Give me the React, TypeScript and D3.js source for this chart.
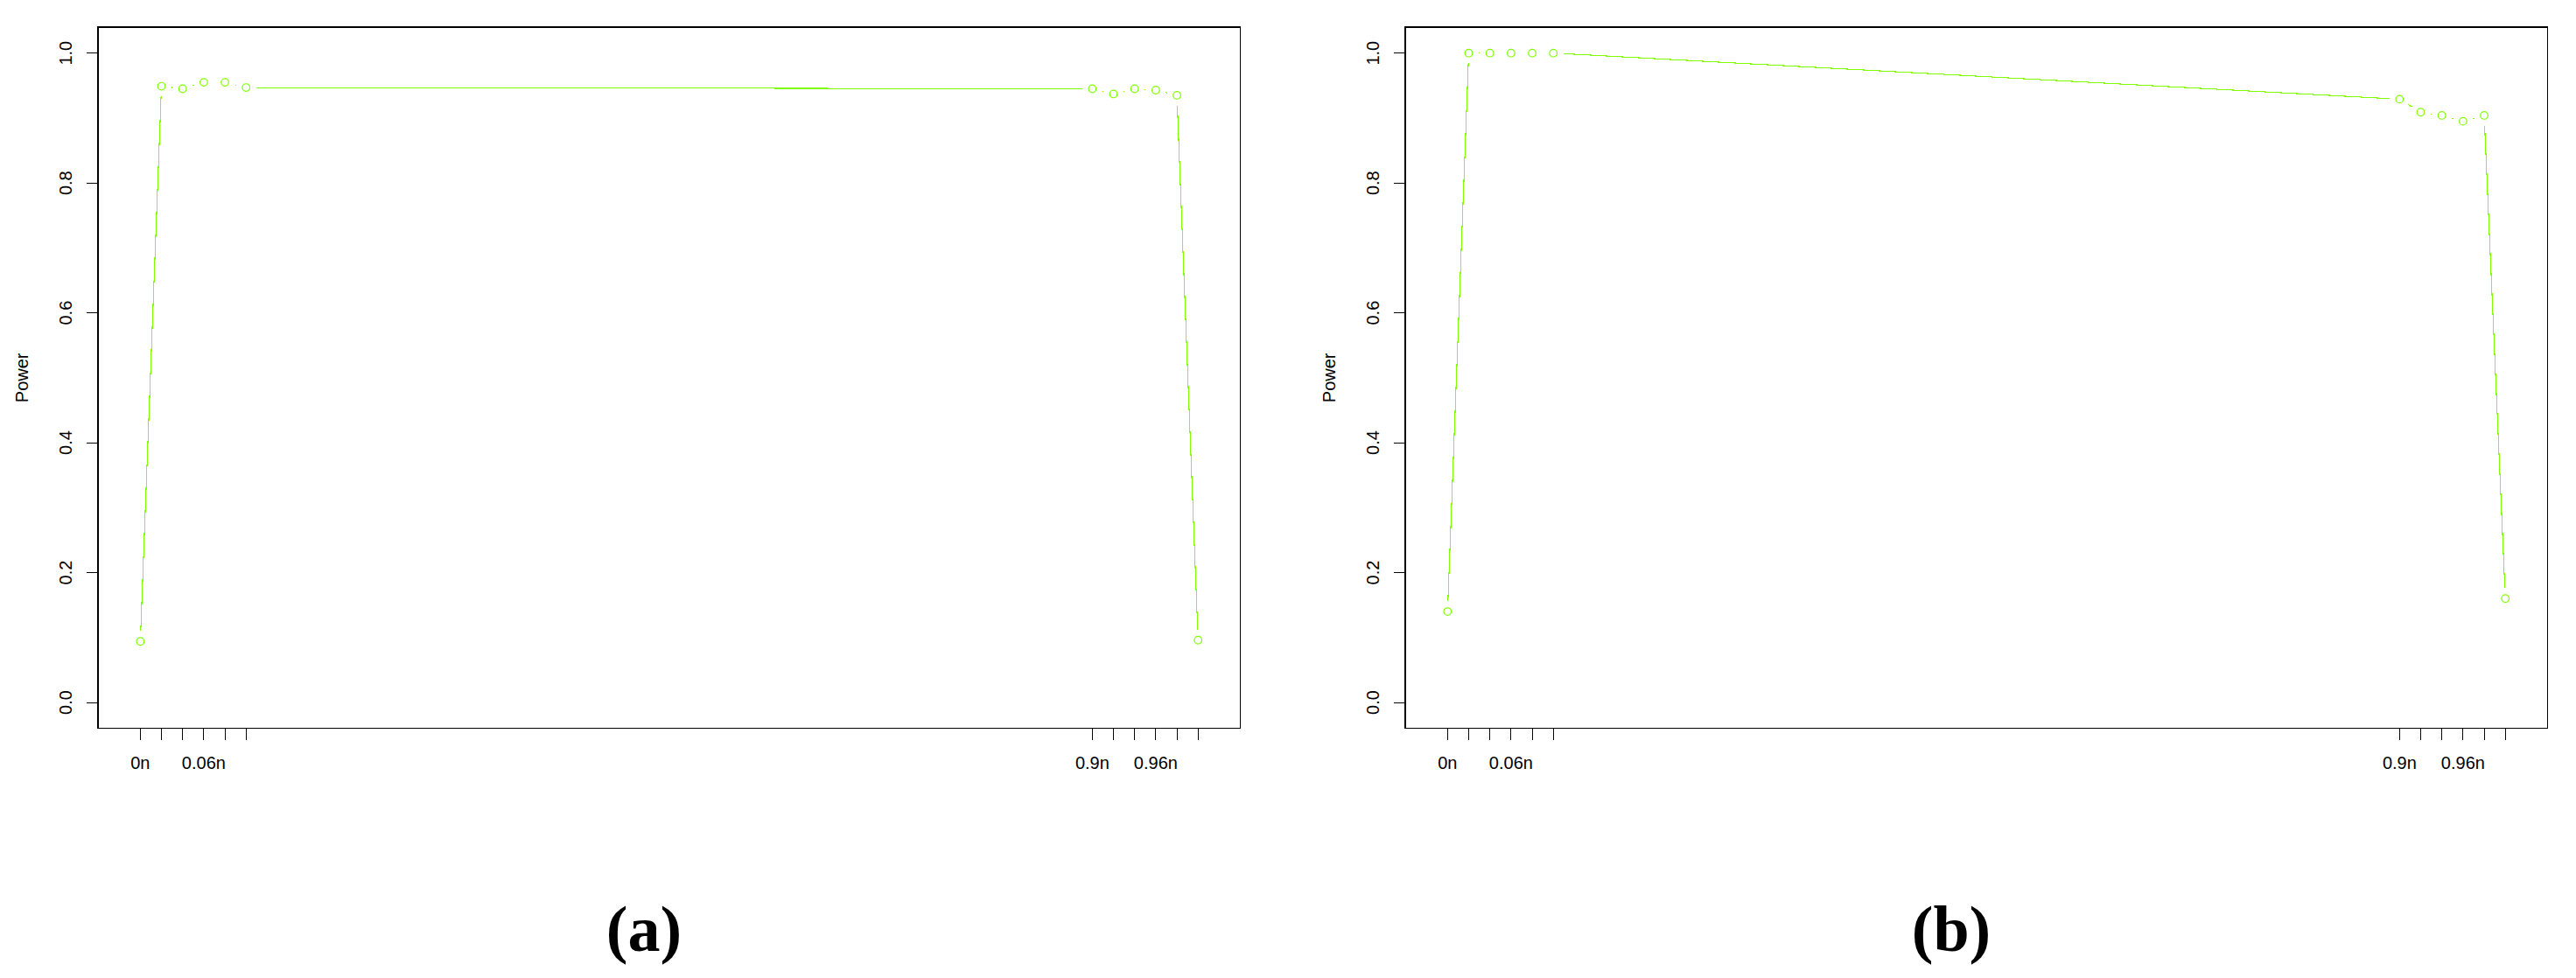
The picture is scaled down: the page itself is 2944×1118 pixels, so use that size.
import React from 'react'
import * as d3 from 'd3'

// x positions are fractions of n
const X_FRAC = [0, 0.02, 0.04, 0.06, 0.08, 0.1, 0.9, 0.92, 0.94, 0.96, 0.98, 1.0]
// R drops overlapping labels, only these were printed
const X_LABELS = ['0n', '', '', '0.06n', '', '', '0.9n', '', '', '0.96n', '', '']
const Y_TICKS = [0, 0.2, 0.4, 0.6, 0.8, 1.0]

const POWER_A = [0.094, 0.949, 0.945, 0.955, 0.955, 0.947, 0.945, 0.937, 0.945, 0.943, 0.935, 0.096]
const POWER_B = [0.140, 1.0, 1.0, 1.0, 1.0, 1.0, 0.929, 0.909, 0.904, 0.895, 0.904, 0.160]

const GREEN = '#80ff00'
const FONT = 'Liberation Sans, Arial, Helvetica, sans-serif'

const Panel = ({ left, values, caption, captionX }) => {
  const plotW = 1305.6
  const top = 31, bottom = 832.7
  const x = d3.scaleLinear().domain([-0.04, 1.04]).range([left, left + plotW])
  const y = d3.scaleLinear().domain([-0.04, 1.04]).range([bottom, top])

  const pts = X_FRAC.map((f, i) => [x(f), y(values[i])])

  // type = "b": segments stop short of each point
  const gap = 11.8
  const segs = []
  for (let i = 0; i < pts.length - 1; i++) {
    const [x1, y1] = pts[i]
    const [x2, y2] = pts[i + 1]
    const len = Math.hypot(x2 - x1, y2 - y1)
    if (len <= 2 * gap) continue
    const ux = (x2 - x1) / len, uy = (y2 - y1) / len
    segs.push([x1 + ux * gap, y1 + uy * gap, x2 - ux * gap, y2 - uy * gap])
  }

  return (
    <g>
      {segs.map((s, i) => (
        <line key={'s' + i} x1={s[0]} y1={s[1]} x2={s[2]} y2={s[3]}
          stroke={GREEN} strokeWidth={1.1} shapeRendering="crispEdges" />
      ))}
      {pts.map((p, i) => (
        <circle key={'p' + i} cx={p[0]} cy={p[1]} r={4.3}
          fill="none" stroke={GREEN} strokeWidth={1.2} />
      ))}

      <rect x={left} y={top} width={plotW} height={bottom - top}
        fill="none" stroke="#000" strokeWidth={1.2} shapeRendering="crispEdges" />

      {Y_TICKS.map(t => (
        <g key={'y' + t}>
          <line x1={left - 13} x2={left} y1={y(t)} y2={y(t)}
            stroke="#000" strokeWidth={1} shapeRendering="crispEdges" />
          <text transform={`translate(${left - 30},${y(t)}) rotate(-90)`}
            textAnchor="middle" fontFamily={FONT} fontSize={20}>
            {t.toFixed(1)}
          </text>
        </g>
      ))}

      {X_FRAC.map((f, i) => (
        <g key={'x' + i}>
          <line x1={x(f)} x2={x(f)} y1={bottom} y2={bottom + 13}
            stroke="#000" strokeWidth={1} shapeRendering="crispEdges" />
          {X_LABELS[i] && (
            <text x={x(f)} y={bottom + 46} textAnchor="middle"
              fontFamily={FONT} fontSize={20}>{X_LABELS[i]}</text>
          )}
        </g>
      ))}

      <text transform={`translate(${left - 80},${(top + bottom) / 2}) rotate(-90)`}
        textAnchor="middle" fontFamily={FONT} fontSize={20}>Power</text>

      <text x={captionX} y={1087} textAnchor="middle"
        fontFamily="Liberation Serif, Times New Roman, serif" fontWeight="bold" fontSize={74}>
        {caption}
      </text>
    </g>
  )
}

export default function App() {
  return (
    <svg width={2944} height={1118}
      style={{ position: 'absolute', left: 0, top: 0, background: '#fff' }}>
      <rect width={2944} height={1118} fill="#fff" />
      <Panel left={112} values={POWER_A} caption="(a)" captionX={736} />
      <Panel left={1606} values={POWER_B} caption="(b)" captionX={2230} />
    </svg>
  )
}
